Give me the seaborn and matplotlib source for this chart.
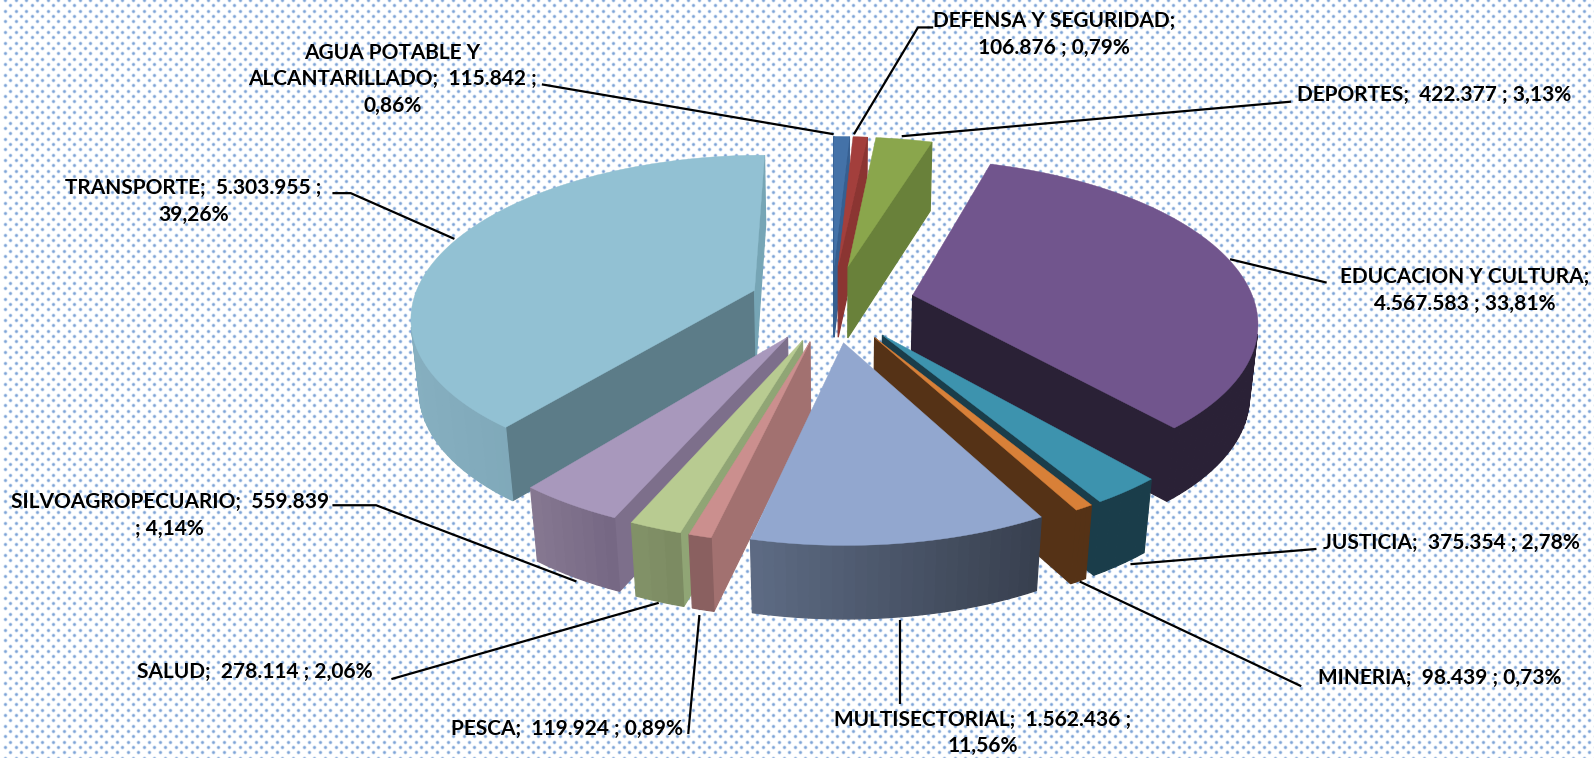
import numpy as np
import matplotlib
matplotlib.use('Agg')
import matplotlib.pyplot as plt
from matplotlib.colors import to_rgb
from matplotlib.patches import Polygon
import seaborn as sns

# sectores, sentido horario desde las 12
sectors = ['AGUA', 'DEFENSA', 'DEPORTES', 'EDUCACION', 'JUSTICIA', 'MINERIA',
           'MULTISECTORIAL', 'PESCA', 'SALUD', 'SILVOAGROPECUARIO', 'TRANSPORTE']
amounts = [115842, 106876, 422377, 4567583, 375354, 98439,
           1562436, 119924, 278114, 559839, 5303955]
labels = [
    'AGUA POTABLE Y\nALCANTARILLADO;  115.842 ;\n0,86%',
    'DEFENSA Y SEGURIDAD;\n106.876 ; 0,79%',
    'DEPORTES;  422.377 ; 3,13%',
    'EDUCACION Y CULTURA;\n4.567.583 ; 33,81%',
    'JUSTICIA;  375.354 ; 2,78%',
    'MINERIA;  98.439 ; 0,73%',
    'MULTISECTORIAL;  1.562.436 ;\n11,56%',
    'PESCA;  119.924 ; 0,89%',
    'SALUD;  278.114 ; 2,06%',
    'SILVOAGROPECUARIO;  559.839\n; 4,14%',
    'TRANSPORTE;  5.303.955 ;\n39,26%',
]

top_colors = ['#4472A8', '#A33F3C', '#8AA64C', '#71558D', '#3D93AE', '#D88038',
              '#92A7CF', '#CB8F8E', '#B8CB91', '#A898BC', '#92C1D3']
wall1_colors = ['#365F91', '#8B3532', '#69813A', '#2A2136', '#1A3D4A', '#553216',
                '#3A4254', '#A27170', '#90A575', '#7D6F8B', '#5C7C88']
wall2_colors = ['#365F91', '#8B3532', '#69813A', '#2A2136', '#1A3D4A', '#553216',
                '#3A4254', '#8A6060', '#7F8E65', '#7D6F8B', '#76A5B5']
arc_left = ['#365F91', '#8B3532', '#69813A', '#2A2136', '#1A3D4A', '#553216',
            '#5E6C85', '#8A6060', '#84946A', '#877992', '#86AFC0']
arc_right = ['#365F91', '#8B3532', '#69813A', '#2A2136', '#1A3D4A', '#553216',
             '#38404F', '#8A6060', '#7C8B62', '#766884', '#6F99A9']

sns.set_theme(style='white')
plt.rcParams['font.family'] = ['Lato', 'DejaVu Sans']

W, H = 1594, 758
S = W / 1568  # las posiciones de las etiquetas se midieron en la imagen reducida

# proyeccion del pastel a pixeles
X0, Y0 = 832, 303
AX, BY = 342, 159
KP, KZ = 0.15, 0.02
DEPTH = 72
EXPLODE = 0.243


def project(x, y, z=0.0):
    w = 1 + KP * y + KZ * z
    return X0 + AX * x / w, Y0 - BY * y / w + DEPTH * z / (1 + 0.5 * KP * y)


def shoelace(pts):
    pts = np.asarray(pts)
    x, y = pts[:, 0], pts[:, 1]
    return np.sum(x * np.roll(y, -1) - np.roll(x, -1) * y)


def mix(c1, c2, t):
    a, b = np.array(to_rgb(c1)), np.array(to_rgb(c2))
    return tuple(a + (b - a) * t)


def draw_quad(ax, p, q, color, zorder):
    quad = [project(*p), project(*q), project(q[0], q[1], 1), project(p[0], p[1], 1)]
    if shoelace(quad) < 0:
        ax.add_patch(Polygon(quad, closed=True, facecolor=color, edgecolor=color, lw=0.9, zorder=zorder))


fig = plt.figure(figsize=(W / 100, H / 100), dpi=100)
ax = fig.add_axes([0, 0, 1, 1])

# el pie calcula los angulos y el desplazamiento de cada sector
wedges, _ = ax.pie(amounts, startangle=90, counterclock=False, radius=1,
                   explode=[EXPLODE] * len(amounts))
geom = [(w.center, w.theta1, w.theta2) for w in wedges]
for w in wedges:
    w.remove()

ax.set_aspect('auto')
ax.set_xlim(0, W)
ax.set_ylim(H, 0)
ax.axis('off')
fig.patch.set_facecolor('white')

# fondo punteado
gx, gy = np.meshgrid(np.arange(5, W + 11, 10.67), np.arange(0, H + 11, 10.67))
for off in [0, 5.33]:
    ax.scatter(gx.ravel() + off, gy.ravel() + off, s=8, color='#c9daf0', lw=0, zorder=0)
    ax.scatter(gx.ravel() + off, gy.ravel() + off, s=3, color='#7ea3d6', lw=0, zorder=0)

# de atras hacia adelante
order = sorted(range(len(geom)),
               key=lambda i: -(geom[i][0][1] + np.sin(np.radians((geom[i][1] + geom[i][2]) / 2)) * 0.5))
for rank, i in enumerate(order):
    (cx, cy), t1, t2 = geom[i]
    z = 2 + rank
    # recorremos cada sector en sentido horario
    ts = np.radians(np.linspace(t2, t1, max(4, int((t2 - t1) / 1.5))))
    arc = [(cx + np.cos(t), cy + np.sin(t)) for t in ts]
    apex = (cx, cy)

    draw_quad(ax, apex, arc[0], wall1_colors[i], z)
    draw_quad(ax, arc[-1], apex, wall2_colors[i], z)

    xs = np.array([project(*p)[0] for p in arc])
    xmin, xmax = xs.min(), xs.max()
    for a, b, xa in zip(arc[:-1], arc[1:], xs[:-1]):
        f = (xa - xmin) / max(xmax - xmin, 1)
        draw_quad(ax, a, b, mix(arc_left[i], arc_right[i], f), z)

    top = [project(*apex)] + [project(*p) for p in arc]
    ax.add_patch(Polygon(top, closed=True, facecolor=top_colors[i], edgecolor=top_colors[i],
                         lw=0.3, zorder=z + 0.5))

# lineas guia
leaders = [
    [(533, 83), (820, 132)],
    [(918, 27), (903, 27), (840, 132)],
    [(1270, 100), (887, 134)],
    [(1305, 278), (1210, 255)],
    [(1295, 540), (1112, 555)],
    [(1280, 675), (1062, 572)],
    [(885, 693), (885, 610)],
    [(677, 722), (688, 605)],
    [(385, 668), (648, 593)],
    [(327, 497), (370, 497), (567, 572)],
    [(327, 190), (345, 190), (447, 235)],
]
for pts in leaders:
    pts = np.array(pts) * S
    ax.plot(pts[:, 0], pts[:, 1], color='black', lw=1.6, zorder=30, solid_capstyle='butt')

label_pos = [(386, 78), (1037, 34), (1411, 93), (1441, 286), (1428, 534), (1416, 667),
             (967, 721), (558, 717), (251, 661), (167, 507), (190, 198)]
for txt, (lx, ly) in zip(labels, label_pos):
    ax.text(lx * S, ly * S, txt, ha='center', va='center', fontsize=15, fontweight='bold',
            color='black', linespacing=1.42, zorder=31)

fig.savefig('out.png', dpi=100)
